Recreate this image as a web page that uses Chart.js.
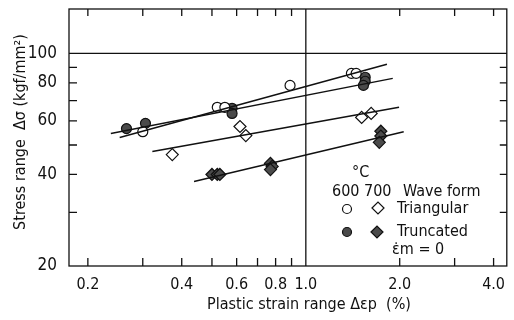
<!DOCTYPE html>
<html>
<head>
<meta charset="utf-8">
<script src="https://cdn.jsdelivr.net/npm/chart.js@4.4.1/dist/chart.umd.min.js"></script>
<style>
  html, body { margin: 0; padding: 0; background: #fff; }
  #wrap { width: 514px; height: 320px; position: relative; }
</style>
</head>
<body>
<div id="wrap"><canvas id="fatigue"></canvas></div>
<script>
// axis ticks
var strainTicks = [0.2, 0.3, 0.4, 0.5, 0.6, 0.7, 0.8, 0.9, 1, 2, 3, 4];
var strainLabels = ['0.2', '0.4', '0.6', '0.8', '1.0', '2.0', '4.0'];
var stressTicks = [20, 30, 40, 50, 60, 70, 80, 90, 100];
var stressLabels = ['20', '40', '60', '80', '100'];

// 600 C, triangular wave (open circles)
var tri600X = [0.30, 0.52, 0.55, 0.89, 1.40, 1.45];
var tri600Y = [55.3, 66.5, 66.5, 78.5, 86, 86];
// 600 C, truncated wave (filled circles)
var trunc600X = [0.266, 0.306, 0.58, 0.58, 1.55, 1.55, 1.53];
var trunc600Y = [56.6, 58.9, 66, 63.5, 83.5, 81, 78.5];
// 700 C, triangular wave (open diamonds)
var tri700X = [0.373, 0.615, 0.642, 1.51, 1.62];
var tri700Y = [46.5, 57.5, 53.7, 61.6, 63.5];
// 700 C, truncated wave (filled diamonds)
var trunc700X = [0.50, 0.52, 0.53, 0.77, 0.78, 0.77, 1.74, 1.74, 1.72];
var trunc700Y = [40, 40, 40, 43.5, 42.5, 41.5, 55.5, 53.5, 51];

// fitted lines (end points)
var fitTri600X = [0.253, 1.82], fitTri600Y = [52.9, 92.1];
var fitTrunc600X = [0.237, 1.90], fitTrunc600Y = [54.5, 82.8];
var fitTri700X = [0.322, 1.99], fitTri700Y = [47.6, 66.5];
var fitTrunc700X = [0.438, 2.06], fitTrunc700Y = [37.9, 55.3];

var FONT = "'Liberation Sans Narrow', 'DejaVu Sans Condensed', sans-serif";
var INK = '#111';
var FILL = '#4a4a4a';

function pts(xs, ys) {
    var out = [];
    for (var i in xs) out.push({x: xs[i], y: ys[i]});
    return out;
}

function markers(xs, ys, style, filled, r) {
    return {
        type: 'scatter',
        data: pts(xs, ys),
        pointStyle: style,
        pointRadius: r,
        pointBorderWidth: 1.2,
        borderColor: INK,
        backgroundColor: filled ? FILL : '#fff',
        showLine: false
    };
}

function fitLine(xs, ys) {
    return {
        type: 'line',
        data: pts(xs, ys),
        borderColor: INK,
        borderWidth: 1.5,
        pointRadius: 0,
        fill: false
    };
}

var frame = {
    id: 'frame',
    beforeDatasetsDraw: function(chart) {
        var ctx = chart.ctx, a = chart.chartArea;
        var x = chart.scales.x, y = chart.scales.y;
        ctx.save();
        ctx.strokeStyle = INK;
        ctx.lineWidth = 1.3;
        ctx.strokeRect(a.left, a.top, a.width, a.height);
        ctx.beginPath();
        var x1 = x.getPixelForValue(1);
        ctx.moveTo(x1, a.top); ctx.lineTo(x1, a.bottom);
        var y100 = y.getPixelForValue(100);
        ctx.moveTo(a.left, y100); ctx.lineTo(a.right, y100);
        strainTicks.forEach(function(v) {
            if (v === 1) return;
            var px = x.getPixelForValue(v);
            ctx.moveTo(px, a.bottom); ctx.lineTo(px, a.bottom - 8);
            ctx.moveTo(px, a.top); ctx.lineTo(px, a.top + 7);
        });
        stressTicks.forEach(function(v) {
            if (v === 20 || v === 100) return;
            var py = y.getPixelForValue(v);
            ctx.moveTo(a.left, py); ctx.lineTo(a.left + 8, py);
            ctx.moveTo(a.right, py); ctx.lineTo(a.right - 7, py);
        });
        ctx.stroke();
        ctx.restore();
    },
    afterDraw: function(chart) {
        var ctx = chart.ctx;
        ctx.save();
        ctx.fillStyle = INK;
        ctx.textBaseline = 'middle';
        // axis titles
        ctx.font = '16px ' + FONT;
        ctx.textAlign = 'center';
        ctx.fillText('Plastic strain range \u0394\u03b5p  (%)', 309, 305);
        ctx.save();
        ctx.translate(21, 132);
        ctx.rotate(-Math.PI / 2);
        ctx.fillText('Stress range  \u0394\u03c3 (kgf/mm\u00b2)', 0, 0);
        ctx.restore();
        // legend block
        ctx.font = '16px ' + FONT;
        ctx.textAlign = 'left';
        ctx.fillText('\u00b0C', 352, 173);
        ctx.fillText('600 700', 332, 192);
        ctx.fillText('Wave form', 403, 192);
        ctx.fillText('Triangular', 397, 209);
        ctx.fillText('Truncated', 397, 232);
        ctx.fillText('\u03b5\u0307m = 0', 392, 250);
        ctx.strokeStyle = INK;
        ctx.lineWidth = 1.2;
        var o = {pointStyle: 'circle', radius: 4.5, rotation: 0, borderWidth: 1.2};
        ctx.fillStyle = '#fff';
        Chart.helpers.drawPoint(ctx, o, 347, 209);
        Chart.helpers.drawPoint(ctx, {pointStyle: 'rectRot', radius: 6, rotation: 0, borderWidth: 1.2}, 378, 208);
        ctx.fillStyle = FILL;
        Chart.helpers.drawPoint(ctx, o, 347, 232);
        Chart.helpers.drawPoint(ctx, {pointStyle: 'rectRot', radius: 6, rotation: 0, borderWidth: 1.2}, 377, 232);
        ctx.restore();
    }
};

var ctx = document.getElementById('fatigue');

var myChart = new Chart(ctx, {
    data: {
        datasets: [
            fitLine(fitTri600X, fitTri600Y),
            fitLine(fitTrunc600X, fitTrunc600Y),
            fitLine(fitTri700X, fitTri700Y),
            fitLine(fitTrunc700X, fitTrunc700Y),
            markers(tri600X, tri600Y, 'circle', false, 5),
            markers(trunc600X, trunc600Y, 'circle', true, 5),
            markers(tri700X, tri700Y, 'rectRot', false, 6),
            markers(trunc700X, trunc700Y, 'rectRot', true, 6)
        ]
    },
    options: {
        responsive: true,
        maintainAspectRatio: false,
        animation: false,
        layout: {padding: {top: 9, right: 0, left: 0, bottom: 0}},
        plugins: {legend: {display: false}, tooltip: {enabled: false}},
        scales: {
            x: {
                type: 'logarithmic',
                min: 0.174,
                max: 4.41,
                afterBuildTicks: function(s) {
                    s.ticks = strainTicks.map(function(v) { return {value: v}; });
                },
                afterFit: function(s) {
                    s.height = 54;
                    s.paddingLeft = 0;
                    s.paddingRight = 0;
                },
                grid: {display: false, drawTicks: false},
                border: {display: false},
                ticks: {
                    autoSkip: false,
                    maxRotation: 0,
                    padding: 9,
                    color: INK,
                    font: {family: FONT, size: 16},
                    callback: function(v) {
                        var t = v.toFixed(1);
                        return strainLabels.indexOf(t) >= 0 ? t : '';
                    }
                }
            },
            y: {
                type: 'logarithmic',
                min: 20,
                max: 140,
                afterBuildTicks: function(s) {
                    s.ticks = stressTicks.map(function(v) { return {value: v}; });
                },
                afterFit: function(s) {
                    s.width = 69;
                    s.paddingTop = 0;
                    s.paddingBottom = 0;
                },
                grid: {display: false, drawTicks: false},
                border: {display: false},
                ticks: {
                    autoSkip: false,
                    padding: 12,
                    color: INK,
                    font: {family: FONT, size: 17},
                    callback: function(v) {
                        var t = String(v);
                        return stressLabels.indexOf(t) >= 0 ? t : '';
                    }
                }
            }
        }
    },
    plugins: [frame]
});
</script>
</body>
</html>
